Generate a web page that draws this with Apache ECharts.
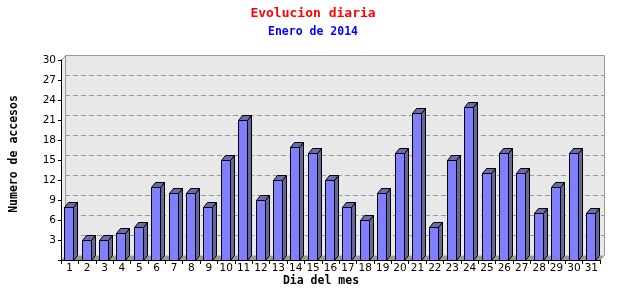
<!DOCTYPE html>
<html>
<head>
<meta charset="utf-8">
<script src="https://cdn.jsdelivr.net/npm/echarts@6/dist/echarts.min.js"></script>
<style>html,body{margin:0;padding:0;background:#fff}#c{width:640px;height:300px}</style>
</head>
<body>
<div id="c"></div>
<script>
const days = ['1','2','3','4','5','6','7','8','9','10','11','12','13','14','15','16','17','18','19','20','21','22','23','24','25','26','27','28','29','30','31'];
const visits = [8,3,3,4,5,11,10,10,8,15,21,9,12,17,16,12,8,6,10,16,22,5,15,23,13,16,13,7,11,16,7];
const yTicks = [3,6,9,12,15,18,21,24,27];
const titleText = 'Evolucion diaria';
const subText = 'Enero de 2014';
const xName = 'Dia del mes';
const yName = 'Numero de accesos';

const DX = 4, DY = 5;
const h = v => Math.round(v) + 0.5;

const chart = echarts.init(document.getElementById('c'), null, {renderer: 'canvas'});

function renderDecor(params, api) {
  const cs = params.coordSys;
  const L = cs.x, R = cs.x + cs.width, T = cs.y, B = cs.y + cs.height;
  const children = [];
  // back wall
  children.push({type: 'rect', shape: {x: h(L + DX), y: h(T - DY), width: Math.round(cs.width), height: Math.round(cs.height)},
    style: {fill: '#e8e8e8', stroke: null}});
  // grid lines on back wall
  yTicks.forEach(t => {
    const y = h(api.coord([0, t])[1] - DY);
    children.push({type: 'line', shape: {x1: L + DX, y1: y, x2: R + DX, y2: y},
      style: {stroke: '#999999', lineWidth: 1, lineDash: [5, 3]}});
  });
  // top & right border of back wall
  children.push({type: 'polyline', shape: {points: [[h(L + DX), h(T - DY)], [h(R + DX), h(T - DY)], [h(R + DX), h(B - DY)]]},
    style: {stroke: '#999999', lineWidth: 1, fill: null}});
  // left wall
  children.push({type: 'polygon', shape: {points: [[h(L), h(T)], [h(L + DX), h(T - DY)], [h(L + DX), h(B - DY)], [h(L), h(B)]]},
    style: {fill: '#ececec', stroke: '#999999', lineWidth: 1}});
  // floor
  children.push({type: 'polygon', shape: {points: [[h(L), h(B)], [h(R), h(B)], [h(R + DX), h(B - DY)], [h(L + DX), h(B - DY)]]},
    style: {fill: '#999999', stroke: null}});
  return {type: 'group', children};
}

function renderBar(params, api) {
  const i = api.value(0), v = api.value(1);
  const c = api.coord([i, v]);
  const base = api.coord([i, 0]);
  const bw = api.size([1, 0])[0];
  const x0 = h(c[0] - bw * 0.31);
  const x1 = x0 + Math.round(bw * 0.52);
  const yt = h(c[1]);
  const yb = h(base[1]);
  const st = {stroke: '#000', lineWidth: 1};
  return {type: 'group', children: [
    {type: 'polygon', shape: {points: [[x1, yt], [x1 + DX, yt - DY], [x1 + DX, yb - DY], [x1, yb]]},
      style: Object.assign({fill: '#666699'}, st)},
    {type: 'polygon', shape: {points: [[x0, yt], [x0 + DX, yt - DY], [x1 + DX, yt - DY], [x1, yt]]},
      style: Object.assign({fill: '#6c6ca8'}, st)},
    {type: 'rect', shape: {x: x0, y: yt, width: x1 - x0, height: yb - yt},
      style: Object.assign({fill: '#8080ff'}, st)}
  ]};
}

const option = {
  animation: false,
  backgroundColor: '#ffffff',
  grid: {left: 61, right: 40, top: 60, bottom: 40},
  xAxis: {
    type: 'category', data: days, boundaryGap: true, z: 10,
    axisLine: {lineStyle: {color: '#000', width: 1}},
    axisTick: {show: true, length: 4, lineStyle: {color: '#000'}},
    axisLabel: {color: '#000', fontFamily: 'DejaVu Sans', fontSize: 10.5, margin: 3, interval: 0}
  },
  yAxis: {
    type: 'value', min: 0, max: 30, interval: 3, z: 10,
    axisLine: {show: true, lineStyle: {color: '#000', width: 1}},
    axisTick: {show: true, length: 3, lineStyle: {color: '#000'}},
    splitLine: {show: false},
    axisLabel: {color: '#000', fontFamily: 'DejaVu Sans', fontSize: 10.5, margin: 5,
      formatter: v => v === 0 ? '' : String(v)}
  },
  graphic: [
    {type: 'text', x: 313, y: 14, style: {text: titleText, fill: '#ff0000', font: 'bold 13px "DejaVu Sans Mono"', textAlign: 'center', textVerticalAlign: 'middle'}},
    {type: 'text', x: 313, y: 32, style: {text: subText, fill: '#0000ff', font: 'bold 11.5px "DejaVu Sans Mono"', textAlign: 'center', textVerticalAlign: 'middle'}},
    {type: 'text', x: 321, y: 281, style: {text: xName, fill: '#000', font: 'bold 11.5px "DejaVu Sans Mono"', textAlign: 'center', textVerticalAlign: 'middle'}},
    {type: 'text', x: 14, y: 154, rotation: Math.PI / 2, style: {text: yName, fill: '#000', font: 'bold 11.5px "DejaVu Sans Mono"', textAlign: 'center', textVerticalAlign: 'middle'}}
  ],
  series: [
    {type: 'custom', renderItem: renderDecor, data: [[0, 0]], silent: true, z: 1},
    {type: 'custom', renderItem: renderBar, data: visits.map((v, i) => [i, v]), z: 2}
  ]
};
chart.setOption(option);
</script>
</body>
</html>
